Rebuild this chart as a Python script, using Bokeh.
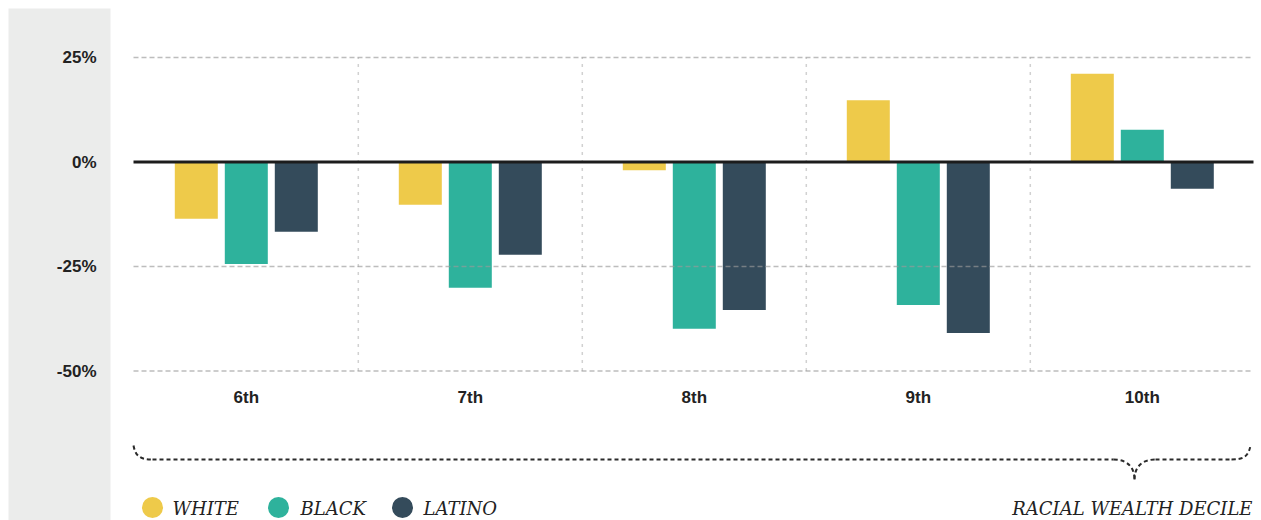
from bokeh.plotting import figure
from bokeh.models import Range1d
from bokeh.core.properties import value
from bokeh.embed import file_html
from bokeh.resources import INLINE

# ---- data ----
deciles = ["6th", "7th", "8th", "9th", "10th"]
white = [-13.6, -10.2, -2.0, 14.8, 21.1]
black = [-24.4, -30.1, -39.9, -34.2, 7.7]
latino = [-16.7, -22.2, -35.4, -40.9, -6.4]
series_names = ["WHITE", "BLACK", "LATINO"]
colors = ["#eeca4a", "#2eb29c", "#344b5b"]
y_ticks = [25, 0, -25, -50]
y_tick_labels = ["25%", "0%", "-25%", "-50%"]
grid_y = [25, -25, -50]
axis_title = "RACIAL WEALTH DECILE"

# ---- layout helpers (canvas px -> data units) ----
W, H = 1261, 520
X0_PX, PX_PER_CAT = 133.8, 224.0
Y0_PX, PX_PER_PCT = 161.5, 4.18


def dx(px):
    return (px - X0_PX) / PX_PER_CAT


def dy(py):
    return (Y0_PX - py) / PX_PER_PCT


p = figure(width=W, height=H, x_range=Range1d(dx(0), dx(W)),
           y_range=Range1d(dy(H), dy(0)), output_backend="svg",
           toolbar_location=None, min_border=0)
p.axis.visible = False
p.grid.visible = False
p.outline_line_color = None
p.background_fill_color = "white"
p.border_fill_color = "white"

# gray side panel
p.quad(left=dx(8), right=dx(110), bottom=dy(H), top=dy(8),
       fill_color="#ebeceb", line_color=None)

# bars
bar_w = 43 / PX_PER_CAT
offs = [-50 / PX_PER_CAT, 0.0, 50 / PX_PER_CAT]
for vals, col, off in zip([white, black, latino], colors, offs):
    xs = [i + 0.5 + off for i in range(len(deciles))]
    p.vbar(x=xs, bottom=0, top=vals, width=bar_w, fill_color=col, line_color=None)

n = len(deciles)
# horizontal grid lines (on top, semi-transparent)
p.multi_line(xs=[[dx(133), dx(1253)] for _ in grid_y], ys=[[g, g] for g in grid_y],
             line_color="#999999", line_alpha=0.65, line_width=1.5, line_dash="5 3")
# vertical separators
p.multi_line(xs=[[k, k] for k in range(1, n)],
             ys=[[min(y_ticks), max(y_ticks)] for _ in range(1, n)],
             line_color="#999999", line_alpha=0.45, line_width=1.5, line_dash="3 5")
# zero line
p.segment(x0=[dx(133)], x1=[dx(1253)], y0=[0], y1=[0], line_color="#1c1c1c", line_width=3)

# y tick labels
p.text(x=[dx(96)] * len(y_ticks), y=y_ticks, text=y_tick_labels,
       text_align="right", text_baseline="middle",
       text_font=value("Liberation Sans"), text_font_style="bold",
       text_font_size=value("17px"), text_color="#222222")

# category labels
p.text(x=[i + 0.5 for i in range(n)], y=[dy(397)] * n, text=deciles,
       text_align="center", text_baseline="middle",
       text_font=value("Liberation Sans"), text_font_style="bold",
       text_font_size=value("17px"), text_color="#222222")

# brace
bk = dict(line_color="#2a2a2a", line_width=2, line_dash="4 3")
p.bezier(x0=[dx(133)], y0=[dy(445)], x1=[dx(152)], y1=[dy(459)],
         cx0=[dx(135)], cy0=[dy(456)], cx1=[dx(140)], cy1=[dy(459)], **bk)
p.segment(x0=[dx(152)], y0=[dy(459)], x1=[dx(1113)], y1=[dy(459)], **bk)
p.bezier(x0=[dx(1113)], y0=[dy(459)], x1=[dx(1134)], y1=[dy(479)],
         cx0=[dx(1126)], cy0=[dy(459)], cx1=[dx(1134)], cy1=[dy(466)], **bk)
p.bezier(x0=[dx(1134)], y0=[dy(479)], x1=[dx(1155)], y1=[dy(459)],
         cx0=[dx(1134)], cy0=[dy(466)], cx1=[dx(1142)], cy1=[dy(459)], **bk)
p.segment(x0=[dx(1155)], y0=[dy(459)], x1=[dx(1231)], y1=[dy(459)], **bk)
p.bezier(x0=[dx(1231)], y0=[dy(459)], x1=[dx(1250)], y1=[dy(445)],
         cx0=[dx(1243)], cy0=[dy(459)], cx1=[dx(1248)], cy1=[dy(456)], **bk)

# legend
leg_dot_x = [dx(152), dx(278), dx(402)]
leg_txt_x = [dx(172), dx(300), dx(423)]
p.scatter(x=leg_dot_x, y=[dy(507)] * 3, size=21, fill_color=colors, line_color=None)
p.text(x=leg_txt_x, y=[dy(508)] * 3, text=series_names,
       text_align="left", text_baseline="middle",
       text_font=value("DejaVu Serif"), text_font_style="italic",
       text_font_size=value("18px"), text_color="#222222")

# axis title
p.text(x=[dx(1252)], y=[dy(508)], text=[axis_title],
       text_align="right", text_baseline="middle",
       text_font=value("DejaVu Serif"), text_font_style="italic",
       text_font_size=value("18px"), text_color="#222222")

open("out.html", "w").write(file_html(p, INLINE))
